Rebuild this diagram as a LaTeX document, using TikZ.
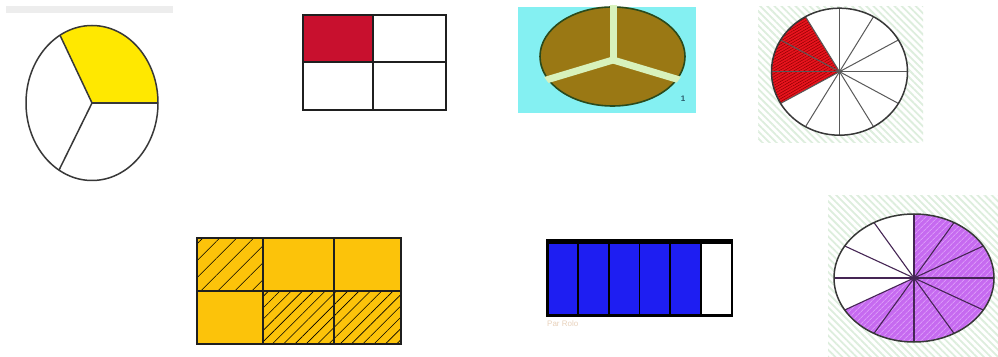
\documentclass[tikz,border=0pt]{standalone}
\usepackage{fontspec}
\setmainfont{Liberation Sans}
\usetikzlibrary{patterns.meta,calc}
\definecolor{ygold}{HTML}{FCC30A}
\definecolor{yel}{HTML}{FFE800}
\definecolor{crim}{HTML}{C8102E}
\definecolor{cyanbg}{HTML}{84F0F2}
\definecolor{olive}{HTML}{9A7814}
\definecolor{gapc}{HTML}{D8F2BC}
\definecolor{dgreen}{HTML}{2A4A1C}
\definecolor{bblue}{HTML}{1E1EF2}
\definecolor{purp}{HTML}{C66AF0}
\definecolor{purpl}{HTML}{DA98F8}
\definecolor{stripe}{HTML}{DDEEDD}
\definecolor{rred}{HTML}{E8141E}
\definecolor{onec}{HTML}{2A5A6A}
\tikzset{
  outl/.style={draw=black!78,line width=1.5pt},
  spoke/.style={draw=black!65,line width=1pt},
  gridln/.style={draw=black!88,line width=2pt},
  stripebg/.style={pattern={Lines[angle=-45,distance=5pt,line width=1.8pt]},pattern color=stripe},
  hatchwide/.style={pattern={Lines[angle=45,distance=12pt,line width=0.6pt]},pattern color=black},
  hatchnarrow/.style={pattern={Lines[angle=45,distance=8pt,line width=0.6pt]},pattern color=black},
}
\begin{document}
\begin{tikzpicture}[x=1pt,y=1pt]
\useasboundingbox (0,0) rectangle (998,356);
\fill[white] (0,0) rectangle (998,356);

% ---------- figure 1 : yellow third ----------
\fill[black!7] (6,343) rectangle (173,350);
\begin{scope}[shift={(92,253)}]
  \coordinate (c1) at (0,0);
  \fill[yel] (c1) -- (0:66pt and 77.5pt) arc[start angle=0,end angle=119,x radius=66pt,y radius=77.5pt] -- cycle;
  \draw[outl] (c1) ellipse[x radius=66pt,y radius=77.5pt];
  \foreach \a in {0,119,240} \draw[outl] (c1) -- (\a:66pt and 77.5pt);
\end{scope}

% ---------- figure 2 : red quarter ----------
\coordinate (r2a) at (302.7,246);
\coordinate (r2b) at (446,341);
\fill[crim] (302.7,293.7) rectangle (373.3,341);
\draw[gridln] (r2a) rectangle (r2b);
\draw[gridln] (373.3,246) -- (373.3,341);
\draw[gridln] (302.7,293.7) -- (446,293.7);

% ---------- figure 3 : olive thirds ----------
\fill[cyanbg] (518,243) rectangle (696,349);
\begin{scope}[shift={(612.5,299.5)}]
  \fill[olive] (0,0) ellipse[x radius=72.5pt,y radius=49.5pt];
  \draw[dgreen,line width=1.6pt] (0,0) ellipse[x radius=72.5pt,y radius=49.5pt];
  \begin{scope}
    \clip (0,0) ellipse[x radius=74.5pt,y radius=51.5pt];
    \coordinate (c3) at (0.5,-3.5);
    \draw[gapc,line width=7pt] (c3) -- ++(0,60);
    \draw[gapc,line width=7pt] (c3) -- ++(-90,-27);
    \draw[gapc,line width=7pt] (c3) -- ++(90,-27);
  \end{scope}
\end{scope}
\node[text=onec,font=\footnotesize\bfseries,inner sep=0] (one) at (683,257) {1};

% ---------- figure 4 : red 3/12 ----------
\fill[white] (758,213) rectangle (923,349);
\fill[stripebg] (758,213) rectangle (923,349);
\begin{scope}[shift={(839.5,284.3)}]
  \coordinate (c4) at (0,0);
  \fill[white] (c4) ellipse[x radius=68pt,y radius=63.5pt];
  \fill[rred] (c4) -- (120:68pt and 63.5pt) arc[start angle=120,end angle=210,x radius=68pt,y radius=63.5pt] -- cycle;
  \fill[pattern={Lines[angle=30,distance=2.5pt,line width=0.5pt]},pattern color=red!55!black] (c4) -- (120:68pt and 63.5pt) arc[start angle=120,end angle=210,x radius=68pt,y radius=63.5pt] -- cycle;
  \foreach \a in {0,30,...,330} \draw[spoke] (c4) -- (\a:68pt and 63.5pt);
  \draw[outl] (c4) ellipse[x radius=68pt,y radius=63.5pt];
\end{scope}

% ---------- figure 5 : golden sixths ----------
\fill[ygold] (196.7,12) rectangle (401,117.7);
\fill[hatchwide] (196.7,65.3) rectangle (262.7,117.7);
\fill[hatchnarrow] (262.7,12) rectangle (401,65.3);
\draw[gridln,line width=2.4pt] (196.7,12) rectangle (401,117.7);
\draw[gridln] (262.7,12) -- (262.7,117.7);
\draw[gridln] (334,12) -- (334,117.7);
\draw[gridln] (196.7,65.3) -- (401,65.3);

% ---------- figure 6 : blue 5/6 ----------
\fill[bblue] (547.3,40.3) rectangle (700.9,116);
\foreach \i in {1,...,5} \draw[black,line width=1.6pt] ({547.3+30.73*\i},40.3) -- ({547.3+30.73*\i},116);
\draw[black,line width=2.4pt] (547.3,40.3) rectangle (731.7,116);
\draw[black,line width=5pt] (546.1,114) -- (732.9,114);
\node[text=brown!35!white,font=\fontsize{8}{9}\selectfont,inner sep=0,anchor=west] (cap) at (547,32) {Par Rolo};

% ---------- figure 7 : purple 8/12 ----------
\fill[white] (828,0) rectangle (998,160);
\fill[stripebg] (828,0) rectangle (998,160);
\begin{scope}[shift={(914,78)}]
  \coordinate (c7) at (0,0);
  \fill[white] (c7) ellipse[x radius=80pt,y radius=64pt];
  \fill[purp] (c7) -- (-150:80pt and 64pt) arc[start angle=-150,end angle=90,x radius=80pt,y radius=64pt] -- cycle;
  \fill[pattern={Lines[angle=45,distance=4pt,line width=1pt]},pattern color=purpl] (c7) -- (-150:80pt and 64pt) arc[start angle=-150,end angle=90,x radius=80pt,y radius=64pt] -- cycle;
  \foreach \a in {0,30,...,330} \draw[draw=black!65!purp,line width=1.1pt] (c7) -- (\a:80pt and 64pt);
  \draw[outl] (c7) ellipse[x radius=80pt,y radius=64pt];
\end{scope}
\end{tikzpicture}
\end{document}
